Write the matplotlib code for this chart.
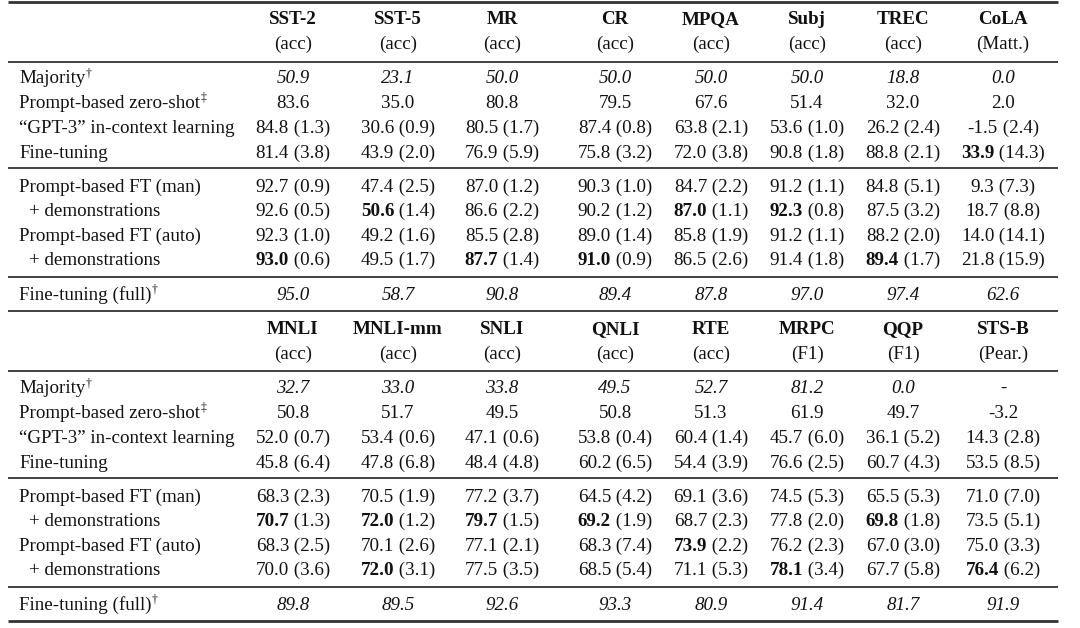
import matplotlib
matplotlib.use('Agg')
import matplotlib.pyplot as plt

plt.rcParams['font.family'] = ['Liberation Serif', 'DejaVu Serif']

# ---- data ----
tasks1 = ['SST-2', 'SST-5', 'MR', 'CR', 'MPQA', 'Subj', 'TREC', 'CoLA']
metrics1 = ['(acc)', '(acc)', '(acc)', '(acc)', '(acc)', '(acc)', '(acc)', '(Matt.)']
tasks2 = ['MNLI', 'MNLI-mm', 'SNLI', 'QNLI', 'RTE', 'MRPC', 'QQP', 'STS-B']
metrics2 = ['(acc)', '(acc)', '(acc)', '(acc)', '(acc)', '(F1)', '(F1)', '(Pear.)']

methods = ['Majority', 'Prompt-based zero-shot', '\u201cGPT-3\u201d in-context learning',
           'Fine-tuning', 'Prompt-based FT (man)', '+ demonstrations',
           'Prompt-based FT (auto)', '+ demonstrations', 'Fine-tuning (full)']
method_marks = ['\u2020', '\u2021', '', '', '', '', '', '', '\u2020']

# table 1
majority1 = [50.9, 23.1, 50.0, 50.0, 50.0, 50.0, 18.8, 0.0]
zeroshot1 = [83.6, 35.0, 80.8, 79.5, 67.6, 51.4, 32.0, 2.0]
gpt3_1 = [84.8, 30.6, 80.5, 87.4, 63.8, 53.6, 26.2, -1.5]
gpt3_1_std = [1.3, 0.9, 1.7, 0.8, 2.1, 1.0, 2.4, 2.4]
ft1 = [81.4, 43.9, 76.9, 75.8, 72.0, 90.8, 88.8, 33.9]
ft1_std = [3.8, 2.0, 5.9, 3.2, 3.8, 1.8, 2.1, 14.3]
man1 = [92.7, 47.4, 87.0, 90.3, 84.7, 91.2, 84.8, 9.3]
man1_std = [0.9, 2.5, 1.2, 1.0, 2.2, 1.1, 5.1, 7.3]
man_demo1 = [92.6, 50.6, 86.6, 90.2, 87.0, 92.3, 87.5, 18.7]
man_demo1_std = [0.5, 1.4, 2.2, 1.2, 1.1, 0.8, 3.2, 8.8]
auto1 = [92.3, 49.2, 85.5, 89.0, 85.8, 91.2, 88.2, 14.0]
auto1_std = [1.0, 1.6, 2.8, 1.4, 1.9, 1.1, 2.0, 14.1]
auto_demo1 = [93.0, 49.5, 87.7, 91.0, 86.5, 91.4, 89.4, 21.8]
auto_demo1_std = [0.6, 1.7, 1.4, 0.9, 2.6, 1.8, 1.7, 15.9]
full1 = [95.0, 58.7, 90.8, 89.4, 87.8, 97.0, 97.4, 62.6]
# (row, col) of bold best results
bold1 = [(3, 7), (5, 1), (5, 4), (5, 5), (7, 0), (7, 2), (7, 3), (7, 6)]

# table 2
majority2 = [32.7, 33.0, 33.8, 49.5, 52.7, 81.2, 0.0, None]
zeroshot2 = [50.8, 51.7, 49.5, 50.8, 51.3, 61.9, 49.7, -3.2]
gpt3_2 = [52.0, 53.4, 47.1, 53.8, 60.4, 45.7, 36.1, 14.3]
gpt3_2_std = [0.7, 0.6, 0.6, 0.4, 1.4, 6.0, 5.2, 2.8]
ft2 = [45.8, 47.8, 48.4, 60.2, 54.4, 76.6, 60.7, 53.5]
ft2_std = [6.4, 6.8, 4.8, 6.5, 3.9, 2.5, 4.3, 8.5]
man2 = [68.3, 70.5, 77.2, 64.5, 69.1, 74.5, 65.5, 71.0]
man2_std = [2.3, 1.9, 3.7, 4.2, 3.6, 5.3, 5.3, 7.0]
man_demo2 = [70.7, 72.0, 79.7, 69.2, 68.7, 77.8, 69.8, 73.5]
man_demo2_std = [1.3, 1.2, 1.5, 1.9, 2.3, 2.0, 1.8, 5.1]
auto2 = [68.3, 70.1, 77.1, 68.3, 73.9, 76.2, 67.0, 75.0]
auto2_std = [2.5, 2.6, 2.1, 7.4, 2.2, 2.3, 3.0, 3.3]
auto_demo2 = [70.0, 72.0, 77.5, 68.5, 71.1, 78.1, 67.7, 76.4]
auto_demo2_std = [3.6, 3.1, 3.5, 5.4, 5.3, 3.4, 5.8, 6.2]
full2 = [89.8, 89.5, 92.6, 93.3, 80.9, 91.4, 81.7, 91.9]
bold2 = [(5, 0), (5, 1), (5, 2), (5, 3), (5, 6), (6, 4), (7, 1), (7, 5), (7, 7)]

table1 = [(majority1, None), (zeroshot1, None), (gpt3_1, gpt3_1_std), (ft1, ft1_std),
          (man1, man1_std), (man_demo1, man_demo1_std), (auto1, auto1_std),
          (auto_demo1, auto_demo1_std), (full1, None)]
table2 = [(majority2, None), (zeroshot2, None), (gpt3_2, gpt3_2_std), (ft2, ft2_std),
          (man2, man2_std), (man_demo2, man_demo2_std), (auto2, auto2_std),
          (auto_demo2, auto_demo2_std), (full2, None)]
italic_rows = [0, 8]

# ---- layout (pixel coordinates) ----
W, H = 1080, 628
FS = 13.7
BASE = 6   # baseline offset below the row centre
col_x = [293, 398, 502, 615, 711, 807, 903, 1003]
x_left, x_right = 8, 1058
label_x = 19
indent_x = 29
txt_color = '#111111'
rule_color = '#333333'

fig = plt.figure(figsize=(W / 100, H / 100), dpi=100)
ax = fig.add_axes([0, 0, 1, 1])
ax.set_xlim(0, W)
ax.set_ylim(H, 0)
ax.axis('off')
renderer = fig.canvas.get_renderer()


def width_of(t):
    return t.get_window_extent(renderer=renderer).width


def put(x, y, s, ha='left', **kw):
    return ax.text(x, y + BASE, s, fontsize=kw.pop('fontsize', FS), color=txt_color,
                   ha=ha, va='baseline', **kw)


def draw_cell(x, y, parts):
    # parts: list of (string, weight, style); centered as a whole on x
    objs = [put(0, y, s, fontweight=w, fontstyle=st) for s, w, st in parts]
    widths = [width_of(o) for o in objs]
    cur = x - sum(widths) / 2
    for o, w in zip(objs, widths):
        o.set_x(cur)
        cur += w


def rule(y, lw):
    ax.plot([x_left, x_right], [y, y], color=rule_color, lw=lw, solid_capstyle='butt')


def draw_table(y0, tasks, metrics, table, bold):
    for j, (t, m) in enumerate(zip(tasks, metrics)):
        put(col_x[j], y0 + 18, t, ha='center', fontweight='bold')
        put(col_x[j], y0 + 43, m, ha='center')
    row_y = [y0 + 77, y0 + 102, y0 + 127, y0 + 152,
             y0 + 186, y0 + 210, y0 + 235, y0 + 259, y0 + 294]
    for i, (name, mark) in enumerate(zip(methods, method_marks)):
        lx = indent_x if name.startswith('+') else label_x
        t = put(lx, row_y[i], name)
        if mark:
            put(lx + width_of(t) + 0.5, row_y[i] - 7, mark, fontsize=FS * 0.62)
        vals, stds = table[i]
        style = 'italic' if i in italic_rows else 'normal'
        for j, v in enumerate(vals):
            if v is None:
                draw_cell(col_x[j], row_y[i], [('-', 'normal', style)])
                continue
            w = 'bold' if (i, j) in bold else 'normal'
            parts = [(f'{v:.1f}', w, style)]
            if stds is not None:
                parts.append((f' ({stds[j]:.1f})', 'normal', style))
            draw_cell(col_x[j], row_y[i], parts)


draw_table(0, tasks1, metrics1, table1, bold1)
draw_table(310, tasks2, metrics2, table2, bold2)

rule(2, 2.0)
rule(62, 1.3)
rule(168, 1.3)
rule(277, 1.3)
rule(311, 1.3)
rule(371, 1.3)
rule(478, 1.3)
rule(587, 1.3)
rule(621, 2.0)

fig.savefig('out.png', dpi=100)
